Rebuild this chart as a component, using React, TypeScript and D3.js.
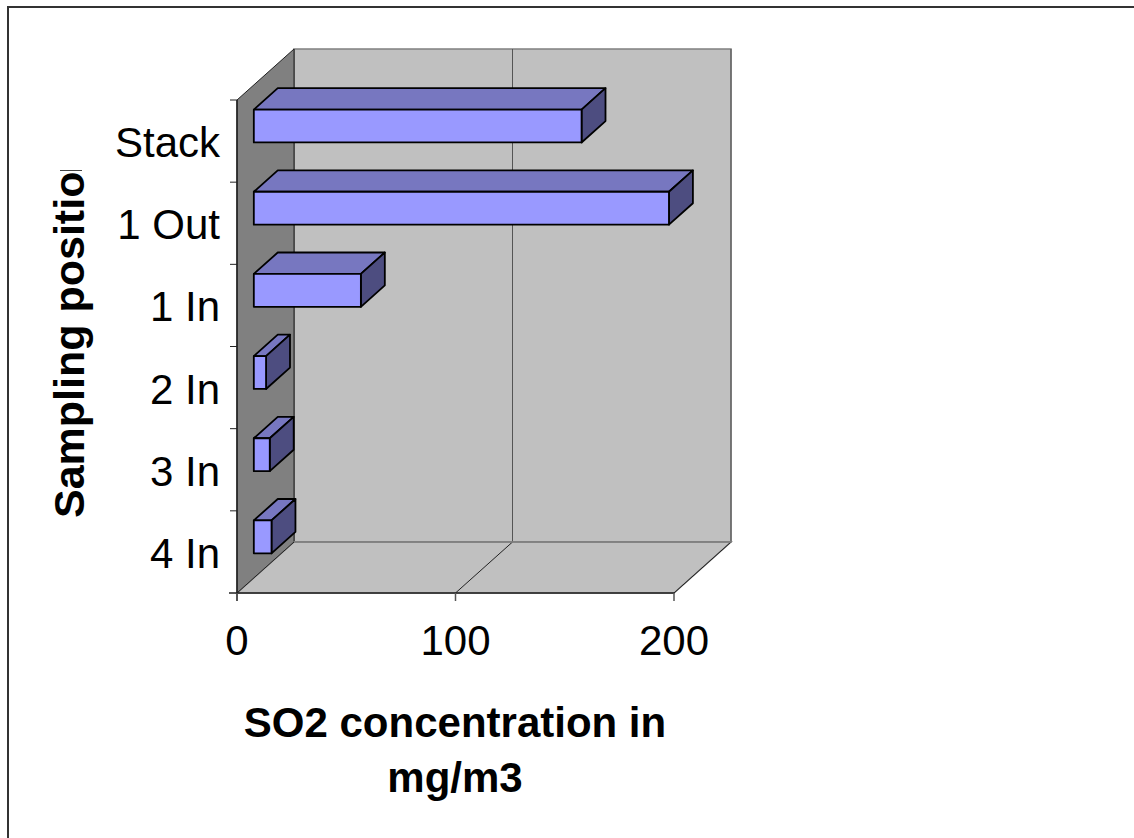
import React from "react";
import * as d3 from "d3";

const categories = ["Stack", "1 Out", "1 In", "2 In", "3 In", "4 In"];
const values = [150, 190, 49, 5.6, 7.3, 8.1];
const xTicks = [0, 100, 200];
const yTitle = "Sampling positio";
const xTitleLines = ["SO2 concentration in", "mg/m3"];

const W = 1134;
const H = 838;
const FONT = "'Liberation Sans', Arial, sans-serif";

// plot geometry
const X0 = 237;
const X1 = 674;
const YTOP = 100;
const YBOT = 593;
const DEPTH_X = 57;
const DEPTH_Y = -51;
const D0 = 0.295;
const D1 = 0.715;

export default function App() {
  const x = d3.scaleLinear().domain([0, 200]).range([X0, X1]);
  const y = d3.scaleBand<string>().domain(categories).range([YTOP, YBOT]).padding(0);
  const bw = y.bandwidth();
  const barH = bw * 0.4;

  const off = (d: number) => [DEPTH_X * d, DEPTH_Y * d];
  const [bx, by] = [DEPTH_X, DEPTH_Y];

  const pts = (arr: number[][]) => arr.map((p) => p.join(",")).join(" ");

  const leftWall = pts([
    [X0, YTOP],
    [X0 + bx, YTOP + by],
    [X0 + bx, YBOT + by],
    [X0, YBOT],
  ]);
  const floor = pts([
    [X0, YBOT],
    [X1, YBOT],
    [X1 + bx, YBOT + by],
    [X0 + bx, YBOT + by],
  ]);

  const [f0x, f0y] = off(D0);
  const [f1x, f1y] = off(D1);

  return (
    <svg
      width={W}
      height={H}
      style={{ position: "absolute", left: 0, top: 0, overflow: "hidden" }}
      fontFamily={FONT}
    >
      <rect x={0} y={0} width={W} height={H} fill="#fff" />
      <rect x={8} y={7} width={1300} height={1000} fill="none" stroke="#333" strokeWidth={2} />

      {/* back wall */}
      <rect
        x={X0 + bx}
        y={YTOP + by}
        width={X1 - X0}
        height={YBOT - YTOP}
        fill="#c0c0c0"
        stroke="#808080"
        strokeWidth={1.5}
      />
      {/* back wall gridlines */}
      {xTicks.map((t) => (
        <line
          key={"g" + t}
          x1={x(t) + bx}
          x2={x(t) + bx}
          y1={YTOP + by}
          y2={YBOT + by}
          stroke="#555"
          strokeWidth={1}
        />
      ))}
      {/* left wall */}
      <polygon points={leftWall} fill="#808080" stroke="#222" strokeWidth={1} />
      {/* floor */}
      <polygon points={floor} fill="#c0c0c0" stroke="#808080" strokeWidth={1.5} />
      {xTicks.map((t) => (
        <line
          key={"fg" + t}
          x1={x(t)}
          y1={YBOT}
          x2={x(t) + bx}
          y2={YBOT + by}
          stroke="#222"
          strokeWidth={1}
        />
      ))}
      <line x1={X0 + bx} y1={YBOT + by} x2={X1 + bx} y2={YBOT + by} stroke="#808080" strokeWidth={1.5} />

      {/* axes */}
      <line x1={X0} y1={YTOP} x2={X0} y2={YBOT + 8} stroke="#222" strokeWidth={1.5} />
      <line x1={X0 - 8} y1={YBOT} x2={X1} y2={YBOT} stroke="#222" strokeWidth={1.5} />
      {categories.map((c) => (
        <line key={"yt" + c} x1={X0 - 7} x2={X0} y1={y(c)!} y2={y(c)!} stroke="#222" strokeWidth={1} />
      ))}
      {xTicks.map((t) => (
        <line key={"xt" + t} x1={x(t)} x2={x(t)} y1={YBOT} y2={YBOT + 8} stroke="#555" strokeWidth={1.5} />
      ))}

      {/* bars */}
      {categories.map((c, i) => {
        const v = values[i];
        const cy = y(c)! + bw / 2;
        const top = cy - barH / 2;
        const bot = cy + barH / 2;
        const xl = x(0);
        const xr = x(v);
        const front = [
          [xl + f0x, top + f0y],
          [xr + f0x, top + f0y],
          [xr + f0x, bot + f0y],
          [xl + f0x, bot + f0y],
        ];
        const topFace = [
          [xl + f0x, top + f0y],
          [xl + f1x, top + f1y],
          [xr + f1x, top + f1y],
          [xr + f0x, top + f0y],
        ];
        const side = [
          [xr + f0x, top + f0y],
          [xr + f1x, top + f1y],
          [xr + f1x, bot + f1y],
          [xr + f0x, bot + f0y],
        ];
        return (
          <g key={"bar" + c} stroke="#000" strokeWidth={1.8} strokeLinejoin="round">
            <polygon points={pts(topFace)} fill="#7777c0" />
            <polygon points={pts(side)} fill="#4d4d80" />
            <polygon points={pts(front)} fill="#9999ff" />
          </g>
        );
      })}

      {/* category labels */}
      {categories.map((c) => (
        <text key={"cl" + c} x={220} y={y(c)! + bw / 2 + 16} textAnchor="end" fontSize={42} fill="#000">
          {c}
        </text>
      ))}
      {/* x tick labels */}
      {xTicks.map((t) => (
        <text key={"xl" + t} x={x(t)} y={655} textAnchor="middle" fontSize={42} fill="#000">
          {t}
        </text>
      ))}

      {/* y title */}
      <defs>
        <clipPath id="ytclip">
          <rect x={0} y={171} width={200} height={500} />
        </clipPath>
      </defs>
      <g clipPath="url(#ytclip)">
        <text
          transform="translate(84,518) rotate(-90)"
          fontSize={43}
          fontWeight="bold"
          fill="#000"
          textAnchor="start"
        >
          {yTitle}
        </text>
      </g>
      <line x1={60} x2={82} y1={170.5} y2={170.5} stroke="#444" strokeWidth={1} />

      {/* x title */}
      {xTitleLines.map((l, i) => (
        <text key={"xtl" + i} x={455} y={737 + i * 55} textAnchor="middle" fontSize={42} fontWeight="bold" fill="#000">
          {l}
        </text>
      ))}
    </svg>
  );
}
